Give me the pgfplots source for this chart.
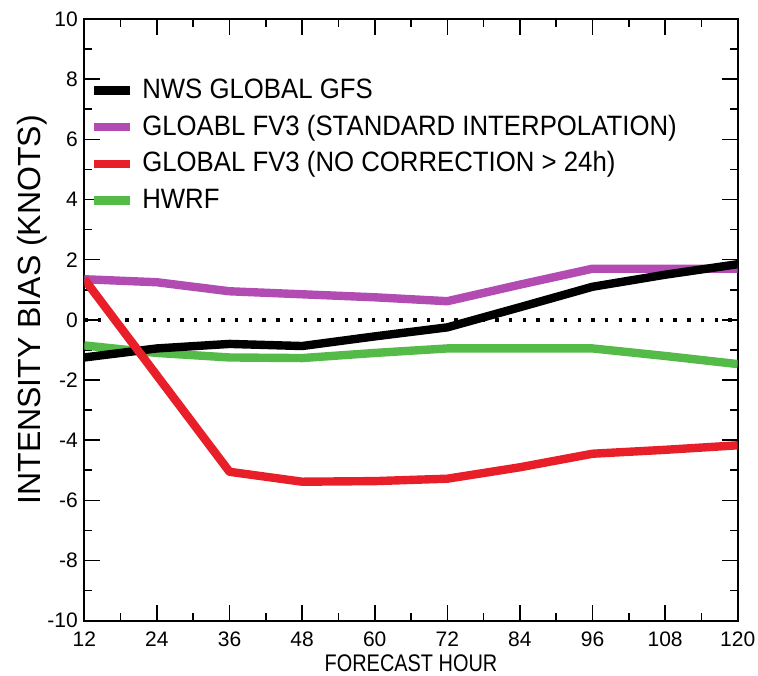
\documentclass[border=0pt]{standalone}
\usepackage{fontspec}
\setmainfont{Liberation Sans}
\usepackage{graphicx}
\usepackage{pgfplots}
\pgfplotsset{compat=1.18}
\definecolor{cpurple}{RGB}{178,76,178}
\definecolor{cred}{RGB}{232,30,40}
\definecolor{cgreen}{RGB}{84,186,72}
\newcommand\cond[1]{\scalebox{0.92}[1]{#1}}
\begin{document}
\begin{tikzpicture}
\begin{axis}[
  scale only axis, width=326.7pt, height=300.85pt,
  xmin=12, xmax=120, ymin=-10, ymax=10,
  xtick={12,24,...,120}, ytick={-10,-8,...,10},
  minor x tick num=1, minor y tick num=1,
  tick align=inside,
  major tick length=8pt, minor tick length=4pt,
  tick style={black, line width=0.8pt},
  axis line style={line width=1pt},
  /pgf/number format/assume math mode=true,
  ticklabel style={font=\fontsize{10.5}{12}\selectfont, inner sep=0pt},
  xticklabel style={yshift=-5.3pt},
  yticklabel style={xshift=-3.1pt},
  legend cell align=left,
  legend style={at={(axis description cs:0.008,0.905)}, anchor=north west,
    draw=none, fill=none, inner sep=0pt, row sep=4.3pt,
    font=\fontsize{14}{16}\selectfont,
    nodes={inner sep=0pt, text height=11pt, text depth=3pt}},
  legend image code/.code={\draw[#1] (0pt,0pt) -- (18pt,0pt);},
  every axis legend/.append style={column sep=4pt},
]
\addlegendimage{black, line width=4.2pt}
\addlegendentry{\cond{NWS GLOBAL GFS}}
\addlegendimage{cpurple, line width=4.2pt}
\addlegendentry{\cond{GLOABL FV3 (STANDARD INTERPOLATION)}}
\addlegendimage{cred, line width=4.2pt}
\addlegendentry{\cond{GLOBAL FV3 (NO CORRECTION > 24h)}}
\addlegendimage{cgreen, line width=4.2pt}
\addlegendentry{\cond{HWRF}}

\addplot[forget plot, black, line width=1.7pt, dash pattern=on 1.7pt off 5.15pt] coordinates {(12,0) (120,0)};

% HWRF
\addplot[forget plot, cgreen, line width=4.2pt, line join=round] coordinates {
(12,-0.85) (24,-1.1) (36,-1.25) (48,-1.27) (60,-1.1) (72,-0.95) (84,-0.95) (96,-0.95) (108,-1.2) (120,-1.47)};
% GLOABL FV3 standard interpolation
\addplot[forget plot, cpurple, line width=4.2pt, line join=round] coordinates {
(12,1.35) (24,1.25) (36,0.95) (48,0.85) (60,0.75) (72,0.62) (84,1.17) (96,1.7) (108,1.7) (120,1.7)};
% NWS GLOBAL GFS
\addplot[forget plot, black, line width=4.2pt, line join=round] coordinates {
(12,-1.25) (24,-0.95) (36,-0.8) (48,-0.87) (60,-0.55) (72,-0.25) (84,0.42) (96,1.1) (108,1.5) (120,1.85)};
% GLOBAL FV3 no correction
\addplot[forget plot, cred, line width=4.2pt, line join=round] coordinates {
(12,1.35) (24,-1.85) (36,-5.05) (48,-5.38) (60,-5.36) (72,-5.28) (84,-4.9) (96,-4.45) (108,-4.32) (120,-4.17)};

\coordinate (sw) at (rel axis cs:0,0);
\coordinate (ne) at (rel axis cs:1,1);
\coordinate (wm) at (rel axis cs:0,0.5);
\coordinate (sm) at (rel axis cs:0.5,0);
\end{axis}
\node[rotate=90, font=\fontsize{16}{18}\selectfont] at ([xshift=-26pt,yshift=5pt]wm) {INTENSITY BIAS (KNOTS)};
\node[font=\fontsize{12}{14}\selectfont] at ([yshift=-21.3pt]sm) {\scalebox{0.83}[1]{FORECAST HOUR}};
\pgfresetboundingbox
\path[use as bounding box] ([xshift=-42.15pt,yshift=-27.15pt]sw) rectangle ([xshift=10.15pt,yshift=9.5pt]ne);
\end{tikzpicture}
\end{document}
